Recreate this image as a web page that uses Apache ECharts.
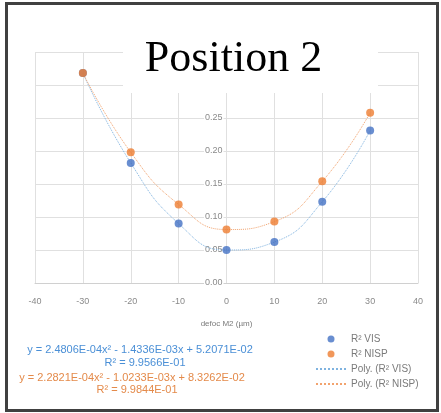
<!DOCTYPE html>
<html><head><meta charset="utf-8">
<script src="https://cdn.jsdelivr.net/npm/echarts@6/dist/echarts.min.js"></script>
<style>html,body{margin:0;padding:0;background:#fff}#c{width:441px;height:413px}</style>
</head><body><div id="c"></div>
<script>
const xValues = [-30, -20, -10, 0, 10, 20, 30];
const visValues = [0.318, 0.182, 0.090, 0.050, 0.062, 0.123, 0.231];
const nispValues = [0.318, 0.198, 0.119, 0.081, 0.093, 0.154, 0.258];
const xTicks = [-40, 40, 10];
const yTicks = [0, 0.35, 0.05];
const seriesNames = ['R² VIS', 'R² NISP', 'Poly. (R² VIS)', 'Poly. (R² NISP)'];
const eqVis = ['y = 2.4806E-04x² - 1.4336E-03x + 5.2071E-02', 'R² = 9.9566E-01'];
const eqNisp = ['y = 2.2821E-04x² - 1.0233E-03x + 8.3262E-02', 'R² = 9.9844E-01'];
const titleText = 'Position 2';
const xName = 'defoc M2 (µm)';

const pair = (xs, ys) => xs.map((x, i) => [x, ys[i]]);
const chart = echarts.init(document.getElementById('c'));
const f = 'Liberation Sans, Arial, sans-serif';
const gridLeft = 35, gridRight = 23;
const plotW = 441 - gridLeft - gridRight;
// y axis sits at x = 0 of the x axis (middle of the plot)
const yAxisOffset = -plotW * (0 - xTicks[0]) / (xTicks[1] - xTicks[0]);
chart.setOption({
  animation: false,
  backgroundColor: '#fff',
  grid: {left: gridLeft, right: gridRight, top: 52, bottom: 130},
  xAxis: {
    type: 'value', min: xTicks[0], max: xTicks[1], interval: xTicks[2],
    axisLine: {show: true, onZero: false, lineStyle: {color: '#d0d0d0'}},
    axisTick: {show: false},
    axisLabel: {color: '#8a8a8a', fontSize: 9, fontFamily: f, margin: 14},
    splitLine: {show: true, lineStyle: {color: '#e0e0e0', width: 1}},
    name: xName, nameLocation: 'middle', nameGap: 37,
    nameTextStyle: {color: '#7a7a7a', fontSize: 8, fontFamily: f}
  },
  yAxis: {
    type: 'value', min: yTicks[0], max: yTicks[1], interval: yTicks[2],
    offset: yAxisOffset,
    axisLine: {show: true, onZero: false, lineStyle: {color: '#e0e0e0'}},
    axisTick: {show: false},
    axisLabel: {color: '#8a8a8a', fontSize: 9, fontFamily: f, margin: 3,
      formatter: v => v.toFixed(2), backgroundColor: '#fff', padding: [0, 1]},
    splitLine: {show: true, lineStyle: {color: '#e0e0e0', width: 1}}
  },
  legend: {
    orient: 'vertical', left: 310, top: 329, itemWidth: 30, itemHeight: 7, itemGap: 5,
    textStyle: {color: '#7a7a7a', fontSize: 10, fontFamily: f},
    data: [
      {name: seriesNames[0], icon: 'circle'},
      {name: seriesNames[1], icon: 'circle'},
      {name: seriesNames[2], itemStyle: {opacity: 0}},
      {name: seriesNames[3], itemStyle: {opacity: 0}}
    ]
  },
  series: [
    {name: seriesNames[2], type: 'line', smooth: 0.5, symbol: 'none', data: pair(xValues, visValues),
      lineStyle: {color: '#7fb3e0', width: 1, type: 'dotted'}, itemStyle: {color: '#7fb3e0'}, z: 2},
    {name: seriesNames[3], type: 'line', smooth: 0.5, symbol: 'none', data: pair(xValues, nispValues),
      lineStyle: {color: '#f2a36e', width: 1, type: 'dotted'}, itemStyle: {color: '#f2a36e'}, z: 2},
    {name: seriesNames[0], type: 'scatter', symbolSize: 8, data: pair(xValues, visValues),
      itemStyle: {color: '#4472C4'}, z: 3},
    {name: seriesNames[1], type: 'scatter', symbolSize: 8, data: pair(xValues, nispValues),
      itemStyle: {color: '#ED7D31'}, z: 4}
  ],
  graphic: [
    {type: 'rect', shape: {x: 6.5, y: 3.5, width: 431, height: 407}, z: 100,
      style: {fill: 'none', stroke: '#404040', lineWidth: 3}},
    {type: 'rect', shape: {x: 123, y: 40, width: 255, height: 53}, z: 100,
      style: {fill: '#fff'}},
    {type: 'text', x: 233.5, y: 59, z: 101, style: {text: titleText, fill: '#000',
      font: '44px "Liberation Serif", serif', textAlign: 'center', textVerticalAlign: 'middle'}},
    {type: 'text', x: 140, y: 350, z: 101, style: {text: eqVis[0], fill: '#4a8fd6',
      font: '11px ' + f, textAlign: 'center', textVerticalAlign: 'middle'}},
    {type: 'text', x: 145, y: 363, z: 101, style: {text: eqVis[1], fill: '#4a8fd6',
      font: '11px ' + f, textAlign: 'center', textVerticalAlign: 'middle'}},
    {type: 'text', x: 132, y: 378, z: 101, style: {text: eqNisp[0], fill: '#e48a4a',
      font: '11px ' + f, textAlign: 'center', textVerticalAlign: 'middle'}},
    {type: 'text', x: 137, y: 390, z: 101, style: {text: eqNisp[1], fill: '#e48a4a',
      font: '11px ' + f, textAlign: 'center', textVerticalAlign: 'middle'}}
  ]
});
</script></body></html>
